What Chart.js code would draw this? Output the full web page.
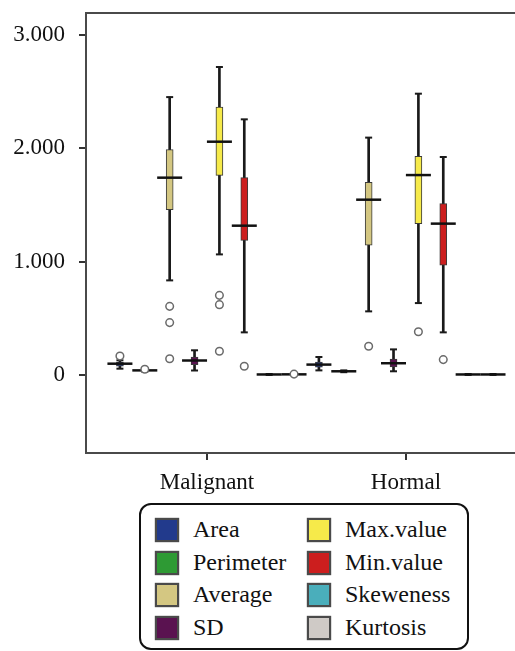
<!DOCTYPE html>
<html>
<head>
<meta charset="utf-8">
<script src="https://cdn.jsdelivr.net/npm/chart.js@4.4.1/dist/chart.umd.min.js"></script>
<style>
  html, body { margin: 0; padding: 0; background: #fff; }
  #wrap { position: relative; width: 515px; height: 651px; overflow: hidden; }
  #c { position: absolute; left: 0; top: 0; }
  #legend {
    position: absolute; left: 139px; top: 503px; width: 330px; height: 147px;
    box-sizing: border-box; border: 2px solid #111; border-radius: 12px; background: #fff;
    font-family: "Liberation Serif", "DejaVu Serif", serif; font-size: 24px; color: #111;
  }
  .item { position: absolute; height: 24px; line-height: 24px; white-space: nowrap; }
  .sw { position: absolute; left: 0; top: 0; width: 24px; height: 24px; box-sizing: border-box;
        border: 2px solid #4a4a4a; box-shadow: 0 0 1px #333; }
  .lbl { position: absolute; left: 38px; top: -1px; }
</style>
</head>
<body>
<div id="wrap">
  <canvas id="c" width="515" height="651"></canvas>
  <div id="legend"></div>
</div>
<script>
// ---------- data ----------
const categories = ['Malignant', 'Hormal'];
const seriesNames = ['Area', 'Perimeter', 'Average', 'SD', 'Max.value', 'Min.value', 'Skeweness', 'Kurtosis'];
const seriesColors = ['#223a8c', '#2e9a34', '#d4c782', '#5a1250', '#f6ea4a', '#cc1e1e', '#4aaebb', '#cfcac6'];

const yTicks = [0, 1000, 2000, 3000];
const yTickLabels = ['0', '1.000', '2.000', '3.000'];

// each entry: [Malignant, Hormal]
const whiskerLow  = [[56, 41], [30, 25], [834, 561], [40, 33], [1063, 634], [376, 376], [1, 1], [2, 1]];
const quartile1   = [[79, 70], [36, 29], [1458, 1145], [92, 72], [1759, 1334], [1187, 969], [3, 3], [4, 3]];
const medians     = [[100, 92], [41, 33], [1739, 1545], [128, 104], [2056, 1762], [1316, 1334], [5, 5], [6, 5]];
const quartile3   = [[115, 115], [45, 37], [1986, 1698], [158, 140], [2361, 1927], [1739, 1510], [7, 7], [8, 7]];
const whiskerHigh = [[130, 159], [47, 41], [2449, 2092], [218, 226], [2714, 2479], [2253, 1921], [9, 9], [10, 9]];
const outliers    = [[[167], []], [[51], []], [[605, 462, 144], [253]], [[], []], [[702, 620, 209], [382]], [[77], [136]], [[], []], [[8], []]];

// ---------- build datasets ----------
const nS = seriesNames.length;
const slot = 1 / nS;
const xPos = (ci, si) => (ci + 1) + (si - (nS - 1) / 2) * slot;

const boxPts = [], boxCols = [], whiskPts = [], capPts = [], medPts = [], outPts = [];
categories.forEach((c, ci) => {
  seriesNames.forEach((s, si) => {
    const x = xPos(ci, si);
    boxPts.push({ x, y: [quartile1[si][ci], quartile3[si][ci]] });
    boxCols.push(seriesColors[si]);
    whiskPts.push({ x, y: [whiskerLow[si][ci], whiskerHigh[si][ci]] });
    capPts.push({ x, y: whiskerLow[si][ci] }, { x, y: whiskerHigh[si][ci] });
    medPts.push({ x, y: medians[si][ci] });
    outliers[si][ci].forEach(v => outPts.push({ x, y: v }));
  });
});

const datasets = [
  { type: 'bar', label: 'whiskers', data: whiskPts, barThickness: 2, grouped: false,
    backgroundColor: '#1a1a1a', borderWidth: 0, order: 4 },
  { type: 'bar', label: 'boxes', data: boxPts, barThickness: 7, grouped: false,
    backgroundColor: boxCols, borderColor: '#3a3a3a', borderWidth: 1, borderSkipped: false, order: 3 },
  { type: 'scatter', label: 'caps', data: capPts, pointStyle: 'line', pointRadius: 3.5,
    borderColor: '#1a1a1a', borderWidth: 2, order: 2 },
  { type: 'scatter', label: 'medians', data: medPts, pointStyle: 'line', pointRadius: 12.5,
    borderColor: '#111', borderWidth: 2.5, order: 1 },
  { type: 'scatter', label: 'outliers', data: outPts, pointStyle: 'circle', pointRadius: 3.8,
    backgroundColor: '#fff', borderColor: '#6a6a6a', borderWidth: 1.5, order: 0 }
];

const serif = 'Liberation Serif';
const axisColor = '#4a4a4a';
const noPadX = s => { s.paddingLeft = 0; s.paddingRight = 0; };
const noPadY = s => { s.paddingTop = 0; s.paddingBottom = 0; };

new Chart(document.getElementById('c'), {
  type: 'scatter',
  data: { datasets },
  options: {
    responsive: false,
    animation: false,
    events: [],
    layout: { padding: 0, autoPadding: false },
    plugins: { legend: { display: false }, tooltip: { enabled: false } },
    scales: {
      x: {
        type: 'linear', position: 'bottom', min: 0.392, max: 2.548, offset: false,
        afterBuildTicks: s => { s.ticks = categories.map((c, i) => ({ value: i + 1 })); },
        ticks: {
          callback: (v, i) => categories[i],
          font: { family: serif, size: 23 }, color: '#111', padding: 9, maxRotation: 0, autoSkip: false
        },
        grid: { display: true, offset: false, drawOnChartArea: false, drawTicks: true, tickLength: 7, color: '#333', lineWidth: 2 },
        border: { display: true, color: axisColor, width: 2 },
        afterFit: s => { s.height = 198; noPadX(s); }
      },
      xTop: {
        type: 'linear', position: 'top', min: 0.392, max: 2.548, offset: false,
        ticks: { display: false }, grid: { display: false, offset: false },
        border: { display: true, color: axisColor, width: 2 },
        afterFit: s => { s.height = 13; noPadX(s); }
      },
      y: {
        type: 'linear', position: 'left', min: -687, max: 3190,
        afterBuildTicks: s => { s.ticks = yTicks.map(v => ({ value: v })); },
        ticks: {
          callback: (v, i) => yTickLabels[i],
          font: { family: serif, size: 23 }, color: '#111', padding: 14
        },
        grid: { drawOnChartArea: false, drawTicks: true, tickLength: 7, color: '#333', lineWidth: 2 },
        border: { display: true, color: axisColor, width: 2 },
        afterFit: s => { s.width = 86; noPadY(s); }
      }
    }
  }
});

// ---------- legend (two columns, column-major) ----------
const legend = document.getElementById('legend');
const rows = 4;
const colLeft = [14, 166];
const rowTop = [13, 46, 78, 111];
seriesNames.forEach((name, i) => {
  const col = Math.floor(i / rows), row = i % rows;
  const it = document.createElement('div');
  it.className = 'item';
  it.style.left = colLeft[col] + 'px';
  it.style.top = rowTop[row] + 'px';
  const sw = document.createElement('span');
  sw.className = 'sw';
  sw.style.background = seriesColors[i];
  const lb = document.createElement('span');
  lb.className = 'lbl';
  lb.textContent = name;
  it.appendChild(sw); it.appendChild(lb);
  legend.appendChild(it);
});
</script>
</body>
</html>
